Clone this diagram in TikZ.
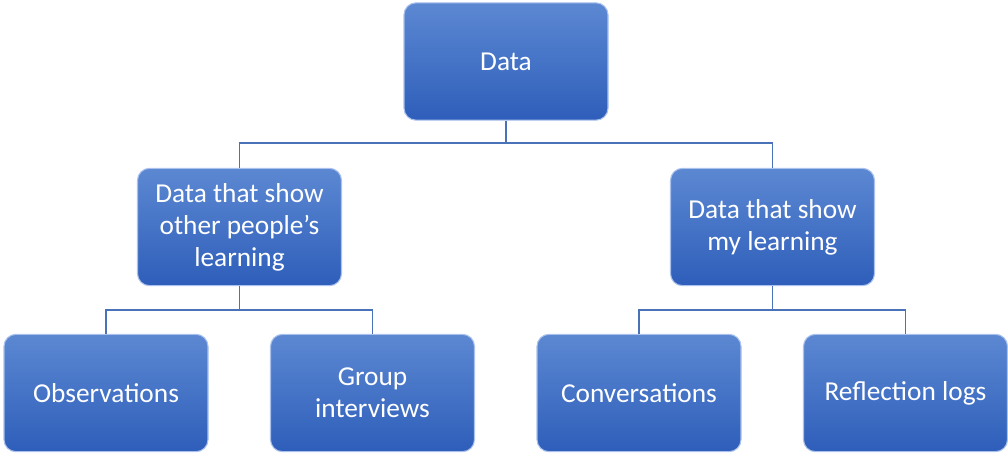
\documentclass[tikz,border=0pt]{standalone}
\usepackage{fontspec}
\setmainfont{Carlito}
\definecolor{boxtop}{HTML}{5C88D2}
\definecolor{boxbot}{HTML}{2E5EBA}
\definecolor{boxedge}{HTML}{A9C1EC}
\definecolor{linkcol}{HTML}{4A72B8}
\begin{document}
\begin{tikzpicture}[x=0.75pt,y=-0.75pt,
  card/.style={rectangle, rounded corners=9pt, minimum width=153pt, minimum height=88pt,
    top color=boxtop, bottom color=boxbot, draw=boxedge, line width=0.8pt,
    text=white, font=\fontsize{20.5}{24}\selectfont, align=center, inner sep=2pt},
  link/.style={draw=linkcol, line width=1.1pt}]
\useasboundingbox (0,0) rectangle (1008,454);
% top level
\node[card] (root) at (506,61.5) {Data};
% second level
\node[card] (other) at (239.5,227) {Data that show\\other people’s\\learning};
\node[card] (mine) at (772.5,227) {Data that show\\my learning};
% third level
\node[card] (obs) at (106,393) {Observations};
\node[card] (grp) at (372.5,393) {Group\\interviews};
\node[card] (conv) at (639,393) {Conversations};
\node[card] (refl) at (905.5,393) {Reflection logs};
% elbow connectors
\coordinate (b1) at (506,143);
\coordinate (b2) at (239.5,310);
\coordinate (b3) at (772.5,310);
\draw[link] (root.south) -- (b1);
\draw[link] (b1) -| (other.north);
\draw[link] (b1) -| (mine.north);
\draw[link] (other.south) -- (b2);
\draw[link] (b2) -| (obs.north);
\draw[link] (b2) -| (grp.north);
\draw[link] (mine.south) -- (b3);
\draw[link] (b3) -| (conv.north);
\draw[link] (b3) -| (refl.north);
\end{tikzpicture}
\end{document}
